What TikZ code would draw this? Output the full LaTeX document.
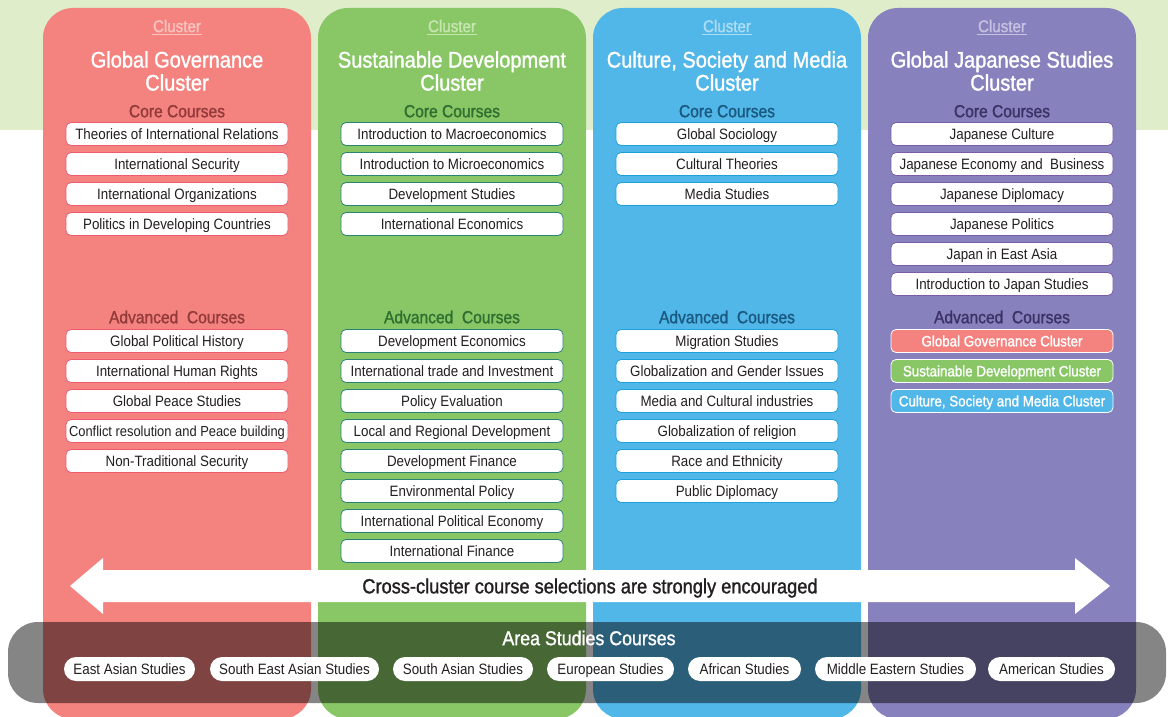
\documentclass[tikz,border=0pt]{standalone}
\usepackage{fontspec}
\setmainfont{Liberation Sans}[FakeStretch=0.89]
\newfontfamily\medfont{Liberation Sans}[FakeStretch=0.89,FakeBold=1.3]
\definecolor{topband}{HTML}{DFEDCB}
\definecolor{cred}{HTML}{F4837F}
\definecolor{cgreen}{HTML}{89C766}
\definecolor{cblue}{HTML}{51B6E8}
\definecolor{cpurple}{HTML}{8781BD}
\definecolor{dred}{HTML}{933B3B}
\definecolor{dgreen}{HTML}{2F6F30}
\definecolor{dblue}{HTML}{1A5A80}
\definecolor{dpurple}{HTML}{3B3366}
\definecolor{lred}{HTML}{F9C3C0}
\definecolor{lgreen}{HTML}{C6E6B0}
\definecolor{lblue}{HTML}{ADDDF5}
\definecolor{lpurple}{HTML}{C5C1E0}
\definecolor{bred}{HTML}{EE5A6E}
\definecolor{bgreen}{HTML}{2A8274}
\definecolor{bblue}{HTML}{1DA1DB}
\definecolor{bpurple}{HTML}{7B5CA5}
\definecolor{txt}{HTML}{231F20}
\tikzset{
  column/.style={fill=#1, rounded corners=30pt},
  clusterlbl/.style={text=#1, font=\medfont\fontsize{17}{17}\selectfont, inner sep=1pt, text height=12.2pt, text depth=0pt},
  title/.style={text=white, align=center, font=\medfont\fontsize{22.5}{23}\selectfont, inner sep=0pt},
  header/.style={text=#1, font=\medfont\fontsize{17.5}{17.5}\selectfont, inner sep=0pt, text height=12.5pt, text depth=0pt},
  course/.style={draw=#1, line width=0.8pt, fill=white, rounded corners=5pt, minimum width=222pt, minimum height=23pt, inner sep=0pt, text=txt, font=\fontsize{15}{15}\selectfont, text height=10.7pt, text depth=0pt},
  ccourse/.style={draw=white, line width=0.8pt, fill=#1, rounded corners=5pt, minimum width=222pt, minimum height=23pt, inner sep=0pt, text=white, font=\medfont\fontsize{15}{15}\selectfont, text height=10.7pt, text depth=0pt},
  pill/.style={fill=white, rounded corners=12pt, minimum height=24pt, inner sep=0pt, text=txt, font=\fontsize{15}{15}\selectfont, minimum width=#1, text height=10.7pt, text depth=0pt},
}
\begin{document}
\begin{tikzpicture}[x=1pt,y=-1pt]
\useasboundingbox (0,0) rectangle (1168,717);
\fill[topband] (0,0) rectangle (1168,130);
% columns
\fill[column=cred] (43,8) rectangle (311,719);
\fill[column=cgreen] (318,8) rectangle (586,719);
\fill[column=cblue] (593,8) rectangle (861,719);
\fill[column=cpurple] (868,8) rectangle (1136,719);
% cluster labels
\foreach \cx/\lc/\n in {177/lred/1,452/lgreen/2,727/lblue/3,1002/lpurple/4}{
  \node[clusterlbl=\lc] (cl\n) at (\cx,26) {Cluster};
  \draw[\lc, line width=1.2pt] ([yshift=-1.5pt]cl\n.south west) -- ([yshift=-1.5pt]cl\n.south east);
}
% titles
\node[title] (t1) at (177,71) {Global Governance\\Cluster};
\node[title] (t2) at (452,71) {Sustainable Development\\Cluster};
\node[title] (t3) at (727,71) {Culture, Society and Media\\Cluster};
\node[title] (t4) at (1002,71) {Global Japanese Studies\\Cluster};
% headers
\node[header=dred] (h1) at (177,111) {Core Courses};
\node[header=dgreen] (h2) at (452,111) {Core Courses};
\node[header=dblue] (h3) at (727,111) {Core Courses};
\node[header=dpurple] (h4) at (1002,111) {Core Courses};
\node[header=dred] (a1) at (177,317) {Advanced\ \ Courses};
\node[header=dgreen] (a2) at (452,317) {Advanced\ \ Courses};
\node[header=dblue] (a3) at (727,317) {Advanced\ \ Courses};
\node[header=dpurple] (a4) at (1002,317) {Advanced\ \ Courses};
% core courses
\foreach \t [count=\i] in {Theories of International Relations, International Security, International Organizations, Politics in Developing Countries}
  \node[course=bred] (rc\i) at (177,{134+30*(\i-1)}) {\t};
\foreach \t [count=\i] in {Introduction to Macroeconomics, Introduction to Microeconomics, Development Studies, International Economics}
  \node[course=bgreen] (gc\i) at (452,{134+30*(\i-1)}) {\t};
\foreach \t [count=\i] in {Global Sociology, Cultural Theories, Media Studies}
  \node[course=bblue] (bc\i) at (727,{134+30*(\i-1)}) {\t};
\foreach \t [count=\i] in {Japanese Culture, Japanese Economy and\ \ Business, Japanese Diplomacy, Japanese Politics, Japan in East Asia, Introduction to Japan Studies}
  \node[course=bpurple] (pc\i) at (1002,{134+30*(\i-1)}) {\t};
% advanced courses
\foreach \t [count=\i] in {Global Political History, International Human Rights, Global Peace Studies, {\fontsize{14.5}{14.5}\selectfont Conflict resolution and Peace building}, Non-Traditional Security}
  \node[course=bred] (ra\i) at (177,{341+30*(\i-1)}) {\t};
\foreach \t [count=\i] in {Development Economics, International trade and Investment, Policy Evaluation, Local and Regional Development, Development Finance, Environmental Policy, International Political Economy, International Finance}
  \node[course=bgreen] (ga\i) at (452,{341+30*(\i-1)}) {\t};
\foreach \t [count=\i] in {Migration Studies, Globalization and Gender Issues, Media and Cultural industries, Globalization of religion, Race and Ethnicity, Public Diplomacy}
  \node[course=bblue] (ba\i) at (727,{341+30*(\i-1)}) {\t};
\node[ccourse=cred] (pa1) at (1002,341) {Global Governance Cluster};
\node[ccourse=cgreen] (pa2) at (1002,371) {Sustainable Development Cluster};
\node[ccourse=cblue] (pa3) at (1002,401) {{Culture, Society and Media Cluster}};
% arrow
\fill[white] (70,586) -- (103,558) -- (103,570) -- (1075,570) -- (1075,558) -- (1110,586)
  -- (1075,614) -- (1075,602) -- (103,602) -- (103,614) -- cycle;
\node[text=txt, font=\medfont\fontsize{20.5}{20.5}\selectfont, inner sep=0pt, text height=14.7pt, text depth=0pt] (cross) at (590,586) {Cross-cluster course selections are strongly encouraged};
% area studies band
\fill[black, fill opacity=0.48, rounded corners=30pt] (8,622) rectangle (1166,703);
\node[text=white, font=\medfont\fontsize{20}{20}\selectfont, inner sep=0pt, text height=14.3pt, text depth=0pt] (area) at (589,638) {Area Studies Courses};
\node[pill=131pt] (p1) at (129.5,669) {East Asian Studies};
\node[pill=169pt] (p2) at (294.5,669) {South East Asian Studies};
\node[pill=140pt] (p3) at (463,669) {South Asian Studies};
\node[pill=127pt] (p4) at (610.5,669) {European Studies};
\node[pill=113pt] (p5) at (744.5,669) {African Studies};
\node[pill=161pt] (p6) at (895.5,669) {Middle Eastern Studies};
\node[pill=127pt] (p7) at (1051.5,669) {American Studies};
\end{tikzpicture}
\end{document}
